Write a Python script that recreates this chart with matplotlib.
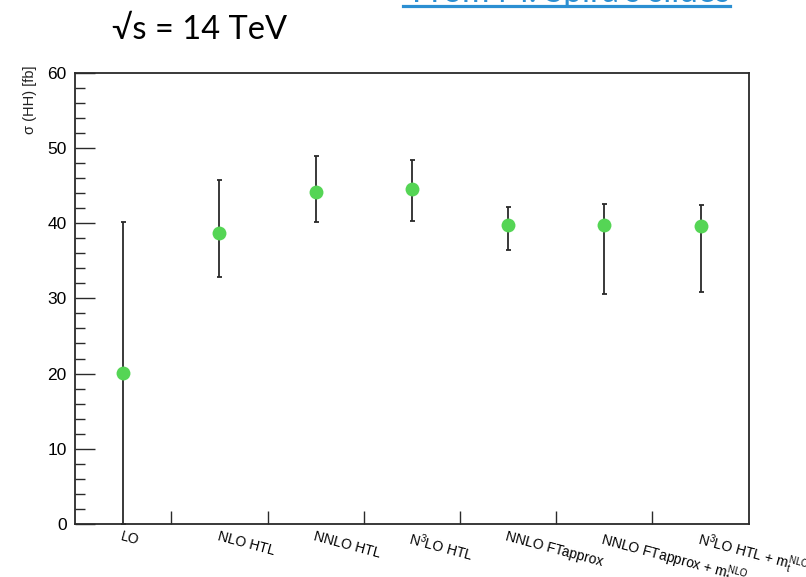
import numpy as np
import matplotlib
matplotlib.use("Agg")
import matplotlib.pyplot as plt
from matplotlib.lines import Line2D
from matplotlib.ticker import MultipleLocator

# HH cross section at 14 TeV for successive perturbative orders
orders = [
    "LO",
    "NLO HTL",
    "NNLO HTL",
    r"$\mathregular{N^{3}}$LO HTL",
    "NNLO FTapprox",
    r"NNLO FTapprox + $\mathregular{m_t^{NLO}}$",
    r"$\mathregular{N^{3}}$LO HTL + $\mathregular{m_t^{NLO}}$",
]
sigma = [20.1, 38.7, 44.2, 44.5, 39.7, 39.7, 39.6]
sigma_low = [0.0, 32.9, 40.1, 40.3, 36.4, 30.6, 30.9]
sigma_high = [40.2, 45.7, 48.9, 48.4, 42.2, 42.5, 42.4]

plt.rcParams['font.family'] = ['Liberation Sans', 'DejaVu Sans']
frame_col = '#2a2a2a'

fig = plt.figure(figsize=(8.06, 5.77), dpi=100)
ax = fig.add_axes([0.0931, 0.0919, 0.9289 - 0.0931, 0.874 - 0.0919])

x = np.arange(len(orders)) + 0.5
sigma = np.array(sigma)
yerr = [sigma - np.array(sigma_low), np.array(sigma_high) - sigma]

ax.errorbar(x, sigma, yerr=yerr, fmt='none', ecolor=frame_col,
            elinewidth=1.3, capsize=1.8, capthick=1.3, zorder=2)
ax.plot(x, sigma, 'o', color='#55d555', markersize=10, markeredgewidth=0, zorder=3)

ax.set_xlim(0, len(orders))
ax.set_ylim(0, 60)

# bin edges as ticks, names at bin centres
ax.set_xticks(np.arange(1, len(orders)))
ax.set_xticklabels([])
ax.set_xticks(x, orders, minor=True)
ax.tick_params(axis='x', which='major', direction='in', length=9.4, width=1.0, color=frame_col)
ax.tick_params(axis='x', which='minor', length=0, pad=4, labelsize=10)
for lab in ax.get_xminorticklabels():
    lab.set_rotation(-15)
    lab.set_ha('left')
    lab.set_va('top')
    lab.set_rotation_mode('anchor')

ax.yaxis.set_major_locator(MultipleLocator(10))
ax.yaxis.set_minor_locator(MultipleLocator(2))
ax.tick_params(axis='y', which='major', direction='in', length=14.4, width=1.0,
               color=frame_col, labelsize=12.5, pad=6)
ax.tick_params(axis='y', which='minor', direction='in', length=7.2, width=1.0, color=frame_col)

for sp in ax.spines.values():
    sp.set_color(frame_col)
    sp.set_linewidth(1.3)

fig.text(30 / 806, 1 - 66 / 577, "σ (HH) [fb]", rotation=90, ha='center', va='top',
         fontsize=10.5, color='#222222')

# slide title and source link
fig.text(112 / 806, 1 - 39 / 577, "√s = 14 TeV", fontsize=23.5, ha='left', va='baseline',
         family=['Lato', 'DejaVu Sans'], color='black')
fig.text(730 / 806, 1 - 1.5 / 577, "From M. Spira's slides", fontsize=24, ha='right',
         va='baseline', family=['Lato', 'DejaVu Sans'], color='#2b8fd2')
fig.add_artist(Line2D([403 / 806, 730 / 806], [1 - 5.6 / 577, 1 - 5.6 / 577],
                      transform=fig.transFigure, color='#2b8fd2', linewidth=2.3))

fig.savefig("out.png", dpi=100)
